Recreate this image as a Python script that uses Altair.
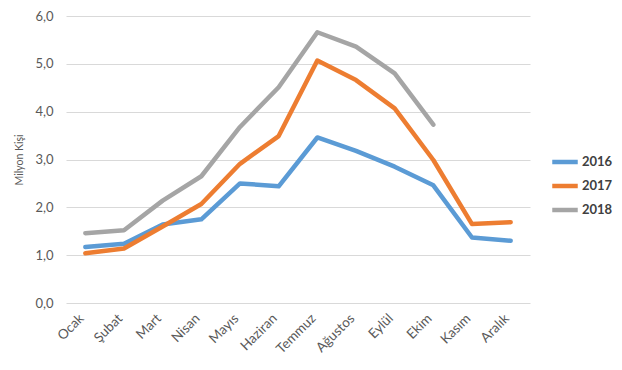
import altair as alt
import pandas as pd

months = ["Ocak", "Şubat", "Mart", "Nisan", "Mayıs", "Haziran",
          "Temmuz", "Ağustos", "Eylül", "Ekim", "Kasım", "Aralık"]
years = ["2016", "2017", "2018"]
v2016 = [1.17, 1.24, 1.64, 1.75, 2.50, 2.44, 3.46, 3.18, 2.85, 2.46, 1.37, 1.30]
v2017 = [1.04, 1.14, 1.60, 2.07, 2.91, 3.49, 5.07, 4.66, 4.07, 2.99, 1.65, 1.69]
v2018 = [1.46, 1.52, 2.14, 2.65, 3.68, 4.51, 5.66, 5.36, 4.80, 3.73]
colors = ["#5B9BD5", "#ED7D31", "#A5A5A5"]

rows = []
for y, vals in zip(years, [v2016, v2017, v2018]):
    for m, v in zip(months, vals):
        rows.append({"Ay": m, "Yıl": y, "Değer": v})
df = pd.DataFrame(rows)

font = "Lato"
chart = alt.Chart(df).mark_line(strokeWidth=4.5, strokeCap="round", strokeJoin="round").encode(
    x=alt.X("Ay:N", sort=months, title=None,
            axis=alt.Axis(labelAngle=-45, labelFont=font, labelFontSize=13.5,
                          labelColor="#595959", domain=False, ticks=False,
                          labelPadding=8, labelOffset=-9, grid=False)),
    y=alt.Y("Değer:Q", title="Milyon Kişi",
            scale=alt.Scale(domain=[0, 6]),
            axis=alt.Axis(values=[0, 1, 2, 3, 4, 5, 6], format=".1f",
                          labelExpr="replace(datum.label, '.', ',')",
                          labelFont=font, labelFontSize=13, labelColor="#595959",
                          titleFont=font, titleFontSize=10.5, titleColor="#595959",
                          titleFontWeight="normal", titlePadding=10,
                          domain=False, ticks=False, labelPadding=13,
                          gridColor="#D9D9D9", gridWidth=1)),
    color=alt.Color("Yıl:N", scale=alt.Scale(domain=years, range=colors),
                    legend=alt.Legend(title=None, orient="none", legendX=484, legendY=131,
                                      symbolType="stroke", symbolSize=650,
                                      symbolStrokeWidth=4.5, labelFont=font,
                                      labelFontSize=13, labelColor="#404040",
                                      labelFontWeight="bold", rowPadding=0,
                                      labelOffset=2))
).properties(
    width=464, height=287,
    autosize=alt.AutoSizeParams(type="none"),
    padding={"left": 58, "top": 8, "right": 84, "bottom": 60},
).configure_view(stroke=None).configure_scale(bandPaddingInner=0, pointPadding=0.5)

chart.save("out.html", embed_options={"renderer": "svg", "actions": False})
